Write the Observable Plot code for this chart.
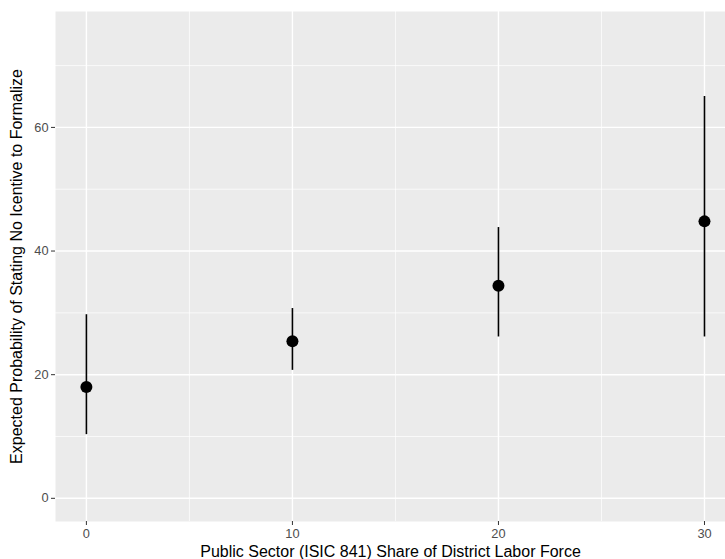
<!DOCTYPE html>
<html>
<head>
<meta charset="utf-8">
<script src="https://cdn.jsdelivr.net/npm/d3@7"></script>
<script src="https://cdn.jsdelivr.net/npm/@observablehq/plot@0.6"></script>
<style>
  html, body { margin: 0; padding: 0; background: #fff; }
  #chart svg { display: block; }
</style>
</head>
<body>
<div id="chart"></div>
<script>
const share = [0, 10, 20, 30];
const estimate = [18.0, 25.4, 34.4, 44.8];
const lower = [10.3, 20.7, 26.1, 26.1];
const upper = [29.7, 30.7, 43.8, 65.0];
const xMajor = [0, 10, 20, 30];
const xMinor = [5, 15, 25];
const yMajor = [0, 20, 40, 60];
const yMinor = [10, 30, 50, 70];
const xTitle = "Public Sector (ISIC 841) Share of District Labor Force";
const yTitle = "Expected Probability of Stating No Icentive to Formalize";

const data = share.map((s, i) => ({share: s, est: estimate[i], lo: lower[i], hi: upper[i]}));

const chart = Plot.plot({
  width: 725,
  height: 559,
  marginLeft: 55,
  marginRight: 0,
  marginTop: 11,
  marginBottom: 38,
  style: {fontFamily: "'Liberation Sans', Arial, Helvetica, sans-serif", background: "#fff"},
  x: {domain: [-1.5, 31.02]},
  y: {domain: [-3.75, 78.75]},
  marks: [
    Plot.frame({fill: "#EBEBEB", stroke: null}),
    Plot.ruleX(xMinor, {stroke: "#fff", strokeWidth: 0.7}),
    Plot.ruleY(yMinor, {stroke: "#fff", strokeWidth: 0.7}),
    Plot.ruleX(xMajor, {stroke: "#fff", strokeWidth: 1.4}),
    Plot.ruleY(yMajor, {stroke: "#fff", strokeWidth: 1.4}),
    Plot.axisX(xMajor, {tickSize: 4, tickPadding: 3, stroke: "#333", color: "#4D4D4D", fontSize: 12.8,
      label: xTitle, labelAnchor: "center", labelArrow: "none", labelOffset: 35}),
    Plot.axisY(yMajor, {tickSize: 4, tickPadding: 3, stroke: "#333", color: "#4D4D4D", fontSize: 12.8,
      label: yTitle, labelAnchor: "center", labelArrow: "none", labelOffset: 45}),
    Plot.ruleX(data, {x: "share", y1: "lo", y2: "hi", stroke: "#000", strokeWidth: 1.6}),
    Plot.dot(data, {x: "share", y: "est", r: 6, fill: "#000", stroke: null})
  ]
});
chart.querySelectorAll("g[aria-label='x-axis label'] text, g[aria-label='y-axis label'] text").forEach(t => {
  t.setAttribute("font-size", "16");
  t.setAttribute("fill", "#000");
});
document.getElementById("chart").appendChild(chart);
</script>
</body>
</html>
